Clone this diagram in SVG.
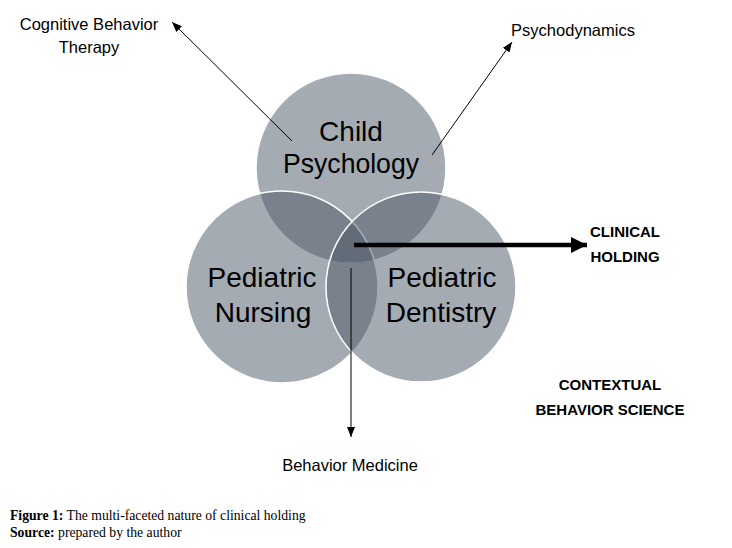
<svg xmlns="http://www.w3.org/2000/svg" width="732" height="548" viewBox="0 0 732 548">
<style>
.c{fill:#4b5766;fill-opacity:0.5;stroke:#ffffff;stroke-width:1.5}
.big{font-family:"Liberation Sans",Arial,sans-serif;font-size:28px;fill:#000;text-anchor:middle}
.lbl{font-family:"Liberation Sans",Arial,sans-serif;font-size:16.5px;fill:#000;text-anchor:middle}
.bold{font-family:"Liberation Sans",Arial,sans-serif;font-size:15px;font-weight:bold;fill:#000;text-anchor:middle}
.cap{font-family:"Liberation Serif","Times New Roman",serif;font-size:13.7px;fill:#000}
.thin{stroke:#000;stroke-width:1;fill:none}
</style>
<defs>
<marker id="ah" markerWidth="10" markerHeight="8" refX="10" refY="4" orient="auto" markerUnits="userSpaceOnUse">
<path d="M0,0 L10,4 L0,8 Z" fill="#000"/>
</marker>
<marker id="ahb" markerWidth="16" markerHeight="16" refX="16" refY="8" orient="auto" markerUnits="userSpaceOnUse">
<path d="M0,0 L16,8 L0,16 Z" fill="#000"/>
</marker>
</defs>
<g id="child-psychology">
<circle class="c" cx="351" cy="168" r="95"/>
</g>
<g id="pediatric-nursing">
<circle class="c" cx="282" cy="287" r="96"/>
</g>
<g id="pediatric-dentistry">
<circle class="c" cx="421" cy="287" r="95"/>
</g>
<g id="child-psychology-label">
<text class="big" x="351" y="141">Child</text>
<text class="big" x="351" y="173" textLength="136" lengthAdjust="spacingAndGlyphs">Psychology</text>
</g>
<g id="pediatric-nursing-label">
<text class="big" x="262" y="287">Pediatric</text>
<text class="big" x="263" y="322">Nursing</text>
</g>
<g id="pediatric-dentistry-label">
<text class="big" x="442" y="287">Pediatric</text>
<text class="big" x="441" y="322">Dentistry</text>
</g>
<g id="connectors">
<line class="thin" x1="292" y1="141" x2="172" y2="22" marker-end="url(#ah)"/>
<line class="thin" x1="432" y1="155" x2="512" y2="42" marker-end="url(#ah)"/>
<line x1="354" y1="245" x2="587" y2="245" stroke="#000" stroke-width="4.5" marker-end="url(#ahb)"/>
<line class="thin" x1="351" y1="268" x2="351" y2="437" marker-end="url(#ah)"/>
</g>
<g id="cognitive-behavior-therapy">
<text class="lbl" x="89" y="30">Cognitive Behavior</text>
<text class="lbl" x="89" y="53">Therapy</text>
</g>
<g id="psychodynamics">
<text class="lbl" x="573" y="36">Psychodynamics</text>
</g>
<g id="behavior-medicine">
<text class="lbl" x="350" y="471">Behavior Medicine</text>
</g>
<g id="clinical-holding">
<text class="bold" x="625" y="237">CLINICAL</text>
<text class="bold" x="625" y="262">HOLDING</text>
</g>
<g id="contextual-behavior-science">
<text class="bold" x="610" y="390">CONTEXTUAL</text>
<text class="bold" x="610" y="415">BEHAVIOR SCIENCE</text>
</g>
<g id="caption">
<text class="cap" x="10" y="520"><tspan font-weight="bold">Figure 1:</tspan> The multi-faceted nature of clinical holding</text>
<text class="cap" x="10" y="537"><tspan font-weight="bold">Source:</tspan> prepared by the author</text>
</g>
</svg>
